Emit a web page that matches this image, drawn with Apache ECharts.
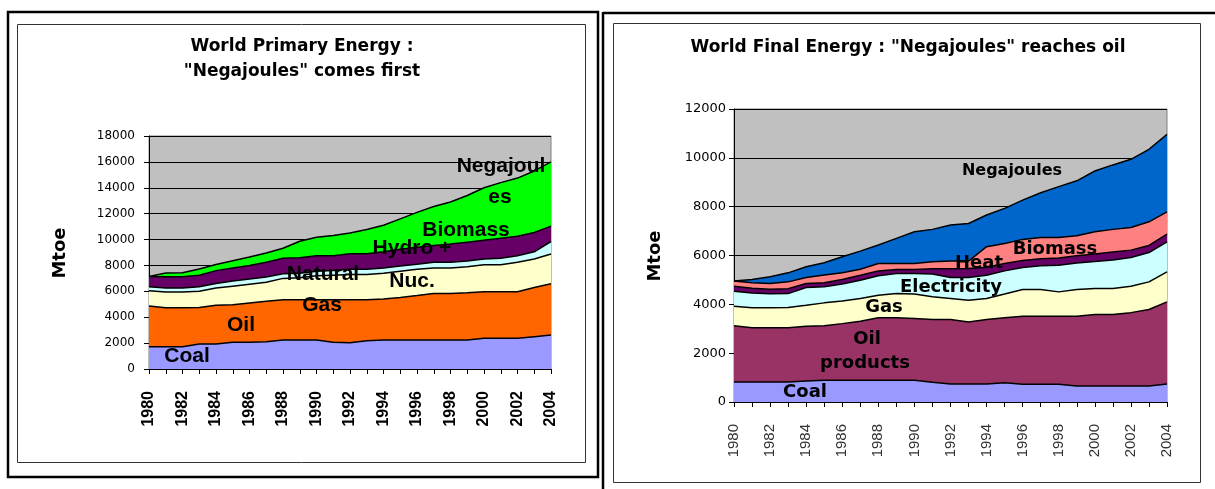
<!DOCTYPE html>
<html>
<head>
<meta charset="utf-8">
<title>World Energy — Negajoules</title>
<script src="https://cdn.jsdelivr.net/npm/echarts@6/dist/echarts.min.js"></script>
<style>
  html, body { margin: 0; padding: 0; background: #fff; }
  #chart { width: 1215px; height: 489px; }
</style>
</head>
<body>
<div id="chart"></div>
<script>
// Years on both category axes
const years = ['1980','1981','1982','1983','1984','1985','1986','1987','1988','1989','1990','1991','1992','1993','1994','1995','1996','1997','1998','1999','2000','2001','2002','2003','2004'];

// World primary energy (Mtoe), stacked bottom to top
const primaryCoal    = [1720,1720,1720,1930,1930,2060,2060,2110,2240,2240,2240,2060,2030,2190,2240,2240,2240,2240,2240,2240,2370,2370,2370,2500,2620];
const primaryOil     = [3140,3010,3010,2820,2990,2910,3040,3120,3110,3110,3110,3290,3320,3160,3160,3280,3430,3600,3600,3650,3600,3600,3600,3800,3960];
const primaryGas     = [1190,1220,1220,1250,1330,1430,1450,1470,1650,1700,1850,1900,1950,1950,2000,2030,2030,1960,1960,2010,2080,2080,2280,2200,2300];
const primaryNuclear = [300,300,300,350,350,400,400,400,350,350,350,350,400,400,400,400,400,450,450,450,450,500,500,550,970];
const primaryHydroBio= [800,870,880,900,1000,1000,1050,1150,1200,1200,1200,1150,1200,1200,1250,1300,1300,1300,1400,1450,1450,1550,1500,1500,1190];
const primaryNega    = [0,300,310,470,480,570,650,710,780,1270,1430,1560,1600,1880,2050,2350,2700,3000,3250,3600,4050,4300,4500,4750,4960];

// World final energy (Mtoe), stacked bottom to top
const finalCoal      = [820,820,820,820,860,890,890,890,890,890,890,810,740,740,740,790,730,730,730,660,660,660,660,660,740];
const finalOil       = [2300,2220,2220,2220,2240,2230,2320,2420,2560,2560,2530,2570,2640,2540,2640,2660,2780,2780,2780,2850,2920,2920,3000,3130,3360];
const finalGas       = [800,820,820,830,860,940,930,930,920,990,1000,930,860,890,860,970,1100,1100,1000,1100,1070,1070,1080,1130,1230];
const finalElec      = [620,600,570,570,730,660,690,750,800,820,840,930,860,930,950,950,900,970,1090,1080,1100,1170,1180,1200,1230];
const finalHeat      = [200,200,190,200,160,160,190,200,200,170,170,220,360,370,330,300,290,290,300,300,310,320,300,290,320];
const finalBiomass   = [220,220,230,280,250,320,270,250,300,240,240,280,310,300,840,820,860,870,840,820,910,930,930,970,910];
const finalNega      = [0,140,280,370,440,500,660,740,760,1030,1300,1330,1480,1540,1300,1440,1610,1830,2080,2250,2490,2640,2790,2970,3170];

const primarySeries = [
  { name: 'Coal', data: primaryCoal, color: '#9999FF' },
  { name: 'Oil', data: primaryOil, color: '#FF6600' },
  { name: 'Natural Gas', data: primaryGas, color: '#FFFFCC' },
  { name: 'Nuc.', data: primaryNuclear, color: '#CCFFFF' },
  { name: 'Hydro + Biomass', data: primaryHydroBio, color: '#660066' },
  { name: 'Negajoules', data: primaryNega, color: '#00FF00' }
];
const finalSeries = [
  { name: 'Coal', data: finalCoal, color: '#9999FF' },
  { name: 'Oil products', data: finalOil, color: '#993366' },
  { name: 'Gas', data: finalGas, color: '#FFFFCC' },
  { name: 'Electricity', data: finalElec, color: '#CCFFFF' },
  { name: 'Heat', data: finalHeat, color: '#660066' },
  { name: 'Biomass', data: finalBiomass, color: '#FF8080' },
  { name: 'Negajoules', data: finalNega, color: '#0066CC' }
];

function areaSeries(list, idx) {
  return list.map(s => ({
    name: s.name,
    type: 'line',
    stack: 'total' + idx,
    xAxisIndex: idx,
    yAxisIndex: idx,
    data: s.data,
    symbol: 'none',
    showSymbol: false,
    lineStyle: { color: '#000', width: 1.5 },
    areaStyle: { color: s.color, opacity: 1 },
    itemStyle: { color: s.color },
    z: 2
  }));
}

function xAxisCfg(idx, bold, size, margin, color) {
  return {
    gridIndex: idx, type: 'category', data: years, boundaryGap: false,
    axisLine: { show: true, lineStyle: { color: '#000', width: 1 } },
    axisTick: { show: true, interval: 0, length: 5, lineStyle: { color: '#000' } },
    axisLabel: {
      interval: 1, rotate: 90, margin: margin,
      fontFamily: 'Liberation Sans', fontWeight: bold ? 'bold' : 'normal',
      fontSize: size, color: color
    },
    splitLine: { show: false }
  };
}
function yAxisCfg(idx, max, size, margin) {
  return {
    gridIndex: idx, type: 'value', min: 0, max: max, interval: 2000,
    axisLine: { show: true, lineStyle: { color: '#000', width: 1 } },
    axisTick: { show: true, length: 5, lineStyle: { color: '#000' } },
    axisLabel: { fontFamily: 'DejaVu Sans', fontSize: size, color: '#000', margin: margin, formatter: v => String(v) },
    splitLine: { show: true, lineStyle: { color: '#000', width: 1 } }
  };
}

const labelFontL = { fontFamily: 'Liberation Sans', fontWeight: 'bold', fontSize: 21, fill: '#000' };
const labelFontR = { fontFamily: 'DejaVu Sans', fontWeight: 'bold', fontSize: 18, fill: '#000' };
const titleFont = { fontFamily: 'DejaVu Sans', fontWeight: 'bold', fontSize: 17, fill: '#000' };
function txt(x, y, text, style, extra) {
  return Object.assign({
    type: 'text', x: x, y: y, z: 50,
    style: Object.assign({ text: text, align: 'center', verticalAlign: 'middle' }, style)
  }, extra || {});
}

const chart = echarts.init(document.getElementById('chart'), null, { renderer: 'canvas' });
chart.setOption({
  animation: false,
  backgroundColor: '#fff',
  grid: [
    { left: 149, top: 136, width: 402, height: 233, show: true, backgroundColor: '#C0C0C0', borderColor: '#808080', borderWidth: 1 },
    { left: 734, top: 109, width: 433, height: 293, show: true, backgroundColor: '#C0C0C0', borderColor: '#808080', borderWidth: 1 }
  ],
  xAxis: [ xAxisCfg(0, true, 16, 22, '#000'), xAxisCfg(1, false, 15, 22, '#333') ],
  yAxis: [ yAxisCfg(0, 18000, 12, 14), yAxisCfg(1, 12000, 13, 8) ],
  series: areaSeries(primarySeries, 0).concat(areaSeries(finalSeries, 1)),
  graphic: [
    // frames
    { type: 'rect', shape: { x: 8, y: 12, width: 590, height: 465 }, style: { fill: 'none', stroke: '#000', lineWidth: 2.5 }, z: 40 },
    { type: 'rect', shape: { x: 17.5, y: 24.5, width: 568, height: 438 }, style: { fill: 'none', stroke: '#333', lineWidth: 1 }, z: 40 },
    { type: 'line', shape: { x1: 603, y1: 12, x2: 603, y2: 489 }, style: { stroke: '#000', lineWidth: 2.5 }, z: 40 },
    { type: 'line', shape: { x1: 603, y1: 13, x2: 1215, y2: 13 }, style: { stroke: '#000', lineWidth: 2.5 }, z: 40 },
    { type: 'rect', shape: { x: 613.5, y: 23.5, width: 587, height: 459 }, style: { fill: 'none', stroke: '#333', lineWidth: 1 }, z: 40 },

    // titles
    txt(302, 47, 'World Primary Energy :', titleFont),
    txt(302, 72, '"Negajoules" comes first', titleFont),
    txt(908, 48, 'World Final Energy : "Negajoules" reaches oil', titleFont),

    // axis names
    txt(60, 253, 'Mtoe', { fontFamily: 'DejaVu Sans', fontWeight: 'bold', fontSize: 18, fill: '#000' }, { rotation: Math.PI / 2 }),
    txt(655, 256, 'Mtoe', { fontFamily: 'DejaVu Sans', fontWeight: 'bold', fontSize: 18, fill: '#000' }, { rotation: Math.PI / 2 }),

    // primary energy labels
    txt(187, 356, 'Coal', labelFontL),
    txt(241, 325, 'Oil', labelFontL),
    txt(323, 274, 'Natural', labelFontL),
    txt(322, 305, 'Gas', labelFontL),
    txt(412, 281, 'Nuc.', labelFontL),
    txt(412, 248, 'Hydro +', labelFontL),
    txt(466, 230, 'Biomass', labelFontL),
    txt(501, 166, 'Negajoul', labelFontL),
    txt(500, 197, 'es', labelFontL),

    // final energy labels
    txt(1012, 171, 'Negajoules', Object.assign({}, labelFontR, { fontSize: 16 })),
    txt(1055, 249, 'Biomass', labelFontR),
    txt(979, 263, 'Heat', labelFontR),
    txt(951, 287, 'Electricity', labelFontR),
    txt(884, 307, 'Gas', labelFontR),
    txt(867, 339, 'Oil', labelFontR),
    txt(865, 363, 'products', labelFontR),
    txt(805, 392, 'Coal', labelFontR)
  ]
});
</script>
</body>
</html>
